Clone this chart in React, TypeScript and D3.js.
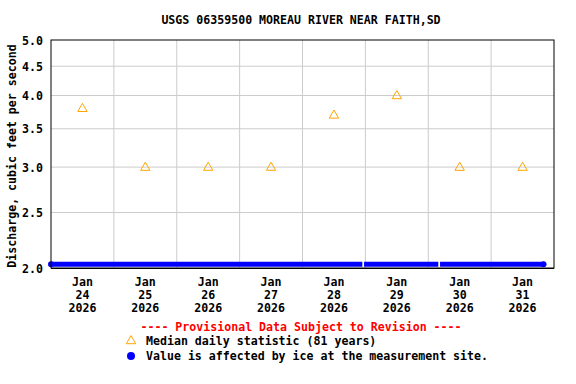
import React from "react";
import * as d3 from "d3";

const title = "USGS 06359500 MOREAU RIVER NEAR FAITH,SD";
const yLabel = "Discharge, cubic feet per second";
const yTicks = [2.0, 2.5, 3.0, 3.5, 4.0, 4.5, 5.0];
const dayLabels = ["24", "25", "26", "27", "28", "29", "30", "31"];
const medianDates = [
  "2026-01-24T12:00:00Z", "2026-01-25T12:00:00Z", "2026-01-26T12:00:00Z", "2026-01-27T12:00:00Z",
  "2026-01-28T12:00:00Z", "2026-01-29T12:00:00Z", "2026-01-30T12:00:00Z", "2026-01-31T12:00:00Z",
];
const medianValues = [3.8, 3.0, 3.0, 3.0, 3.7, 4.0, 3.0, 3.0];
// ice-affected value segments
const iceStarts = ["2026-01-24T00:00:00Z", "2026-01-28T23:30:00Z", "2026-01-30T04:30:00Z"];
const iceEnds = ["2026-01-28T22:50:00Z", "2026-01-30T03:50:00Z", "2026-01-31T20:00:00Z"];
const iceValues = [2.03, 2.03, 2.03];

const W = 576, H = 384;
const L = 51, R = 554, T = 40, B = 268;
const FONT = "'DejaVu Sans Mono', monospace";

export default function App() {
  const x = d3.scaleUtc()
    .domain([new Date("2026-01-24T00:00:00Z"), new Date("2026-02-01T00:00:00Z")])
    .range([L, R]);
  const y = d3.scaleLog().domain([2, 5]).range([B, T]);
  const dayBounds = d3.utcDay.range(new Date("2026-01-25T00:00:00Z"), new Date("2026-02-01T00:00:00Z"));
  const line = d3.line<[Date, number]>().x(d => x(d[0])).y(d => y(d[1]));
  const tri = d3.symbol().type(d3.symbolTriangle).size(38)();

  const firstX = x(new Date(iceStarts[0]));
  const lastX = x(new Date(iceEnds[iceEnds.length - 1]));

  return (
    <svg width={W} height={H} style={{ position: "absolute", left: 0, top: 0, background: "#fff" }}
      fontFamily={FONT} fontWeight="bold" fontSize={11.6}>
      <rect x={0} y={0} width={W} height={H} fill="#fff" />
      <text x={301} y={24} textAnchor="middle">{title}</text>
      {/* grid */}
      {yTicks.filter(v => v > 2 && v < 5).map(v => (
        <line key={"h" + v} x1={L} x2={R} y1={y(v)} y2={y(v)} stroke="#cccccc" strokeWidth={1} />
      ))}
      {dayBounds.map((d, i) => (
        <line key={"v" + i} x1={x(d)} x2={x(d)} y1={T} y2={B} stroke="#cccccc" strokeWidth={1} />
      ))}
      {/* median triangles */}
      {medianDates.map((d, i) => (
        <path key={"m" + i} d={tri} transform={`translate(${x(new Date(d))},${y(medianValues[i]) + 0.5})`}
          fill="none" stroke="#FFA500" strokeWidth={1} />
      ))}
      {/* ice values */}
      {iceStarts.map((s, i) => (
        <path key={"ice" + i}
          d={line([[new Date(s), iceValues[i]], [new Date(iceEnds[i]), iceValues[i]]]) || ""}
          stroke="#0000FF" strokeWidth={5} fill="none" />
      ))}
      <circle cx={firstX} cy={y(iceValues[0])} r={3} fill="#0000FF" />
      <circle cx={lastX} cy={y(iceValues[iceValues.length - 1])} r={3} fill="#0000FF" />
      {/* frame */}
      <rect x={L} y={T} width={R - L} height={B - T} fill="none" stroke="#000" strokeWidth={1} />
      <line x1={L} x2={R} y1={B + 0.5} y2={B + 0.5} stroke="#000" strokeWidth={1} />
      {/* y ticks */}
      {yTicks.map(v => (
        <text key={"yt" + v} x={43} y={y(v) + 4.5} textAnchor="end">{v.toFixed(1)}</text>
      ))}
      <text transform={`translate(16,${(T + B) / 2 + 2}) rotate(-90)`} textAnchor="middle">{yLabel}</text>
      {/* x ticks */}
      {medianDates.map((d, i) => {
        const xx = x(new Date(d));
        return (
          <g key={"xt" + i}>
            <text x={xx} y={286} textAnchor="middle">Jan</text>
            <text x={xx} y={299} textAnchor="middle">{dayLabels[i]}</text>
            <text x={xx} y={312} textAnchor="middle">2026</text>
          </g>
        );
      })}
      {/* legend */}
      <text x={301} y={331} textAnchor="middle" fill="#FF0000">---- Provisional Data Subject to Revision ----</text>
      <path d={tri} transform="translate(131,341)" fill="none" stroke="#FFA500" strokeWidth={1} />
      <text x={146} y={345}>Median daily statistic (81 years)</text>
      <circle cx={131} cy={356} r={4} fill="#0000FF" />
      <text x={146} y={360}>Value is affected by ice at the measurement site.</text>
    </svg>
  );
}
